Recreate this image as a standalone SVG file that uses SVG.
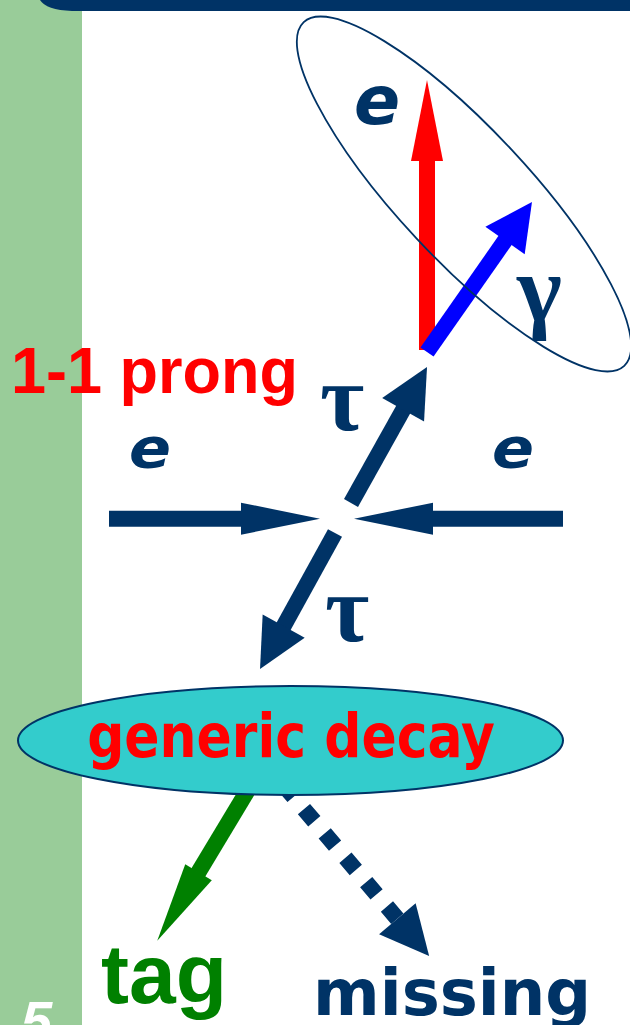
<svg xmlns="http://www.w3.org/2000/svg" width="630" height="1025" viewBox="0 0 630 1025">
<style>
.navy{fill:#003366}
.lbl-e{font-family:"DejaVu Sans",Verdana,sans-serif;font-weight:bold;font-style:italic;fill:#003366}
.greek{font-family:"Liberation Serif","DejaVu Serif",serif;font-weight:bold;fill:#003366}
.sh{fill:none;stroke-width:16;stroke-linecap:butt}
</style>
<defs>
<marker id="hRed" markerUnits="userSpaceOnUse" orient="auto" markerWidth="82" markerHeight="34" viewBox="-1 0 82 32" refX="0" refY="16" overflow="visible"><path d="M-1,0 L80,16 L-1,32 Z" fill="#ff0000"/></marker>
<marker id="hNavyL" markerUnits="userSpaceOnUse" orient="auto" markerWidth="80" markerHeight="34" viewBox="-1 0 80 32" refX="0" refY="16" overflow="visible"><path d="M-1,0 L78,16 L-1,32 Z" fill="#003366"/></marker>
<marker id="hGreen" markerUnits="userSpaceOnUse" orient="auto" markerWidth="82" markerHeight="34" viewBox="-1 0 82 31" refX="0" refY="15.5" overflow="visible"><path d="M-1,0 L79,15.5 L-1,31 Z" fill="#008000"/></marker>
<marker id="hBlue" markerUnits="userSpaceOnUse" orient="auto" markerWidth="50" markerHeight="50" viewBox="-1 0 50 48" refX="0" refY="24" overflow="visible"><path d="M-1,0 L46,24 L-1,48 Z" fill="#0000ff"/></marker>
<marker id="hNavyS" markerUnits="userSpaceOnUse" orient="auto" markerWidth="50" markerHeight="50" viewBox="-1 0 50 48" refX="0" refY="24" overflow="visible"><path d="M-1,0 L48,24 L-1,48 Z" fill="#003366"/></marker>
</defs>
<rect width="630" height="1025" fill="#ffffff"/>
<g id="sidebar"><rect x="0" y="0" width="82" height="1025" fill="#99cc99"/></g>
<g id="topbar"><path d="M40,0 L630,0 L630,11 L72,11 Q46,10 40,0 Z" fill="#003366"/></g>
<g id="connectors">
<line class="sh" x1="427" y1="350" x2="427" y2="160" stroke="#ff0000" marker-end="url(#hRed)"/>
<line class="sh" x1="427" y1="352" x2="505.6" y2="239.7" stroke="#0000ff" marker-end="url(#hBlue)"/>
<line class="sh" x1="351" y1="503" x2="403.6" y2="408.9" stroke="#003366" marker-end="url(#hNavyS)"/>
<line class="sh" x1="335" y1="533" x2="283.2" y2="627" stroke="#003366" marker-end="url(#hNavyS)"/>
<line class="sh" x1="109" y1="518.7" x2="242" y2="518.7" stroke="#003366" marker-end="url(#hNavyL)"/>
<line class="sh" x1="563" y1="518.7" x2="432" y2="518.7" stroke="#003366" marker-end="url(#hNavyL)"/>
<line class="sh" x1="257" y1="775" x2="198" y2="873" stroke="#008000" marker-end="url(#hGreen)"/>
<line class="sh" x1="283.2" y1="784.7" x2="398" y2="919.5" stroke="#003366" stroke-dasharray="16 16" marker-end="url(#hNavyS)"/>
</g>
<g id="cluster"><ellipse cx="464" cy="194" rx="235" ry="65" transform="rotate(47 464 194)" fill="none" stroke="#003366" stroke-width="1.8"/></g>
<g id="generic-decay">
<ellipse cx="290.5" cy="740.5" rx="272.5" ry="54.5" fill="#33cccc" stroke="#003366" stroke-width="2"/>
<text text-anchor="middle" font-family="'DejaVu Sans',Verdana,sans-serif" font-weight="bold" font-size="52" fill="#ff0000" transform="matrix(1 0 0 1.15 291 757)">generic decay</text>
</g>
<g id="label-e-top"><text class="lbl-e" x="354" y="124" font-size="68">e</text></g>
<g id="label-gamma"><text class="greek" x="517" y="321" font-size="96">γ</text></g>
<g id="label-prong"><text x="11" y="393" font-family="'Liberation Sans',Arial,sans-serif" font-weight="bold" font-size="64" fill="#ff0000" textLength="287" lengthAdjust="spacingAndGlyphs">1-1 prong</text></g>
<g id="label-tau-up"><text class="greek" x="320" y="430" font-size="96">τ</text></g>
<g id="label-e-left"><text class="lbl-e" font-size="62" transform="matrix(1 0 0 0.9 129 467)">e</text></g>
<g id="label-e-right"><text class="lbl-e" font-size="62" transform="matrix(1 0 0 0.9 492 467)">e</text></g>
<g id="label-tau-down"><text class="greek" x="325" y="641" font-size="96">τ</text></g>
<g id="label-tag"><text x="101" y="1003" font-family="'Liberation Sans',Arial,sans-serif" font-weight="bold" font-size="84" fill="#008000">tag</text></g>
<g id="label-missing"><text x="313" y="1015" font-family="'DejaVu Sans',Verdana,sans-serif" font-weight="bold" font-size="64" fill="#003366">missing</text></g>
<g id="slide-number"><text x="21" y="1040" font-family="'Liberation Sans',Arial,sans-serif" font-weight="bold" font-style="italic" font-size="56" fill="#ffffff">5</text></g>
</svg>
